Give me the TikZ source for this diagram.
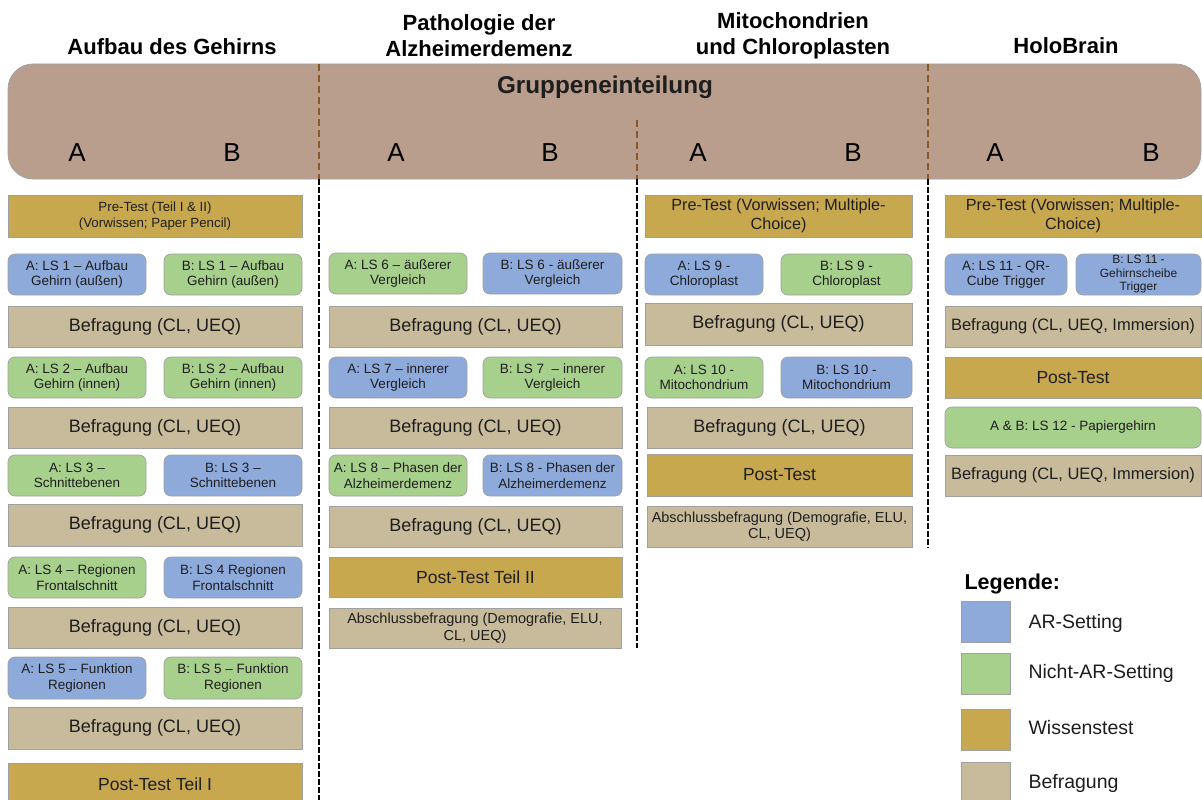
\documentclass[tikz,border=0pt]{standalone}
\usepackage{fontspec}
\setmainfont{Liberation Sans}
\newcommand\fsz[2]{\fontsize{#1}{#2}\selectfont}
\definecolor{arblue}{RGB}{142,170,219}
\definecolor{nargreen}{RGB}{168,208,141}
\definecolor{wgold}{RGB}{200,168,78}
\definecolor{btan}{RGB}{200,187,155}
\definecolor{bandbrown}{RGB}{185,157,141}
\definecolor{dashbrown}{RGB}{139,88,42}
\definecolor{bordergray}{RGB}{160,160,160}
\definecolor{txt}{RGB}{30,30,30}
\newcommand\bx[7]{\node[#2, minimum width={(#5)-(#3)}, minimum height={(#6)-(#4)}] (#1) at ({((#3)+(#5))/2},{((#4)+(#6))/2}) {#7};}
\begin{document}
\begin{tikzpicture}[x=1pt,y=-1pt,
  box/.style={draw=bordergray, line width=0.7pt, align=center, inner sep=1pt, text=txt},
  lsbox/.style={box, rounded corners=7pt, font={\fsz{13.5}{15.5}}},
  ar/.style={lsbox, fill=arblue},
  nar/.style={lsbox, fill=nargreen},
  quest/.style={box, fill=btan, font={\fsz{18}{20}}},
  questsmall/.style={box, fill=btan, font={\fsz{14.5}{16.5}}},
  know/.style={box, fill=wgold, font={\fsz{17.5}{19.5}}},
  title/.style={align=center, font={\bfseries\fsz{22}{26}}, text=black},
  grp/.style={font={\fsz{26}{28}}, text=black},
  bdash/.style={draw=dashbrown, line width=2.6pt, dash pattern=on 7pt off 4pt},
  kdash/.style={draw=black, line width=2.8pt, dash pattern=on 5.5pt off 2.5pt},
  legsq/.style={draw=bordergray, line width=0.7pt, minimum width=49, minimum height=41},
  leglab/.style={anchor=west, font={\fsz{19.5}{22}}, text=txt}
]
\useasboundingbox (0,0) rectangle (1202,800);
\clip (0,0) rectangle (1202,800);
\fill[white] (0,0) rectangle (1202,800);

% titles
\node[title] (t1) at (172,47) {Aufbau des Gehirns};
\node[title] (t2) at (479,36) {Pathologie der\\Alzheimerdemenz};
\node[title] (t3) at (793,36) {Mitochondrien\\und Chloroplasten};
\node[title] (t4) at (1066,46) {HoloBrain};

% band
\node[draw=bordergray, line width=0.7pt, fill=bandbrown, rounded corners=25pt, minimum width=1193, minimum height=115] (band) at (604.5,121.5) {};
\node[font={\bfseries\fsz{24.3}{28}}, text=txt] (grp) at (605,87) {Gruppeneinteilung};
\node[grp] (g1a) at (77,153) {A};
\node[grp] (g1b) at (232,153) {B};
\node[grp] (g2a) at (396,153) {A};
\node[grp] (g2b) at (550,153) {B};
\node[grp] (g3a) at (698,153) {A};
\node[grp] (g3b) at (853,153) {B};
\node[grp] (g4a) at (995,153) {A};
\node[grp] (g4b) at (1151,153) {B};

% dividers
\coordinate (d1t) at (319,64);  \coordinate (d1m) at (319,179); \coordinate (d1b) at (319,800);
\coordinate (d2t) at (637,120); \coordinate (d2m) at (637,179); \coordinate (d2b) at (637,648);
\coordinate (d3t) at (928,64);  \coordinate (d3m) at (928,179); \coordinate (d3b) at (928,548);
\draw[bdash] (d1t) -- (d1m);
\draw[bdash] (d2t) -- (d2m);
\draw[bdash] (d3t) -- (d3m);
\draw[kdash] (d1m) -- (d1b);
\draw[kdash] (d2m) -- (d2b);
\draw[kdash] (d3m) -- (d3b);

% column 1
\bx{pre1}{box, fill=wgold, font={\fsz{13.3}{15.5}}}{8}{195}{302}{237}{Pre-Test (Teil I \& II)\\(Vorwissen; Paper Pencil)}
\bx{a1}{ar}{8}{254}{146}{295}{A: LS 1 – Aufbau\\Gehirn (außen)}
\bx{b1}{nar}{164}{254}{302}{295}{B: LS 1 – Aufbau\\Gehirn (außen)}
\bx{q1}{quest}{8}{306}{302}{347}{Befragung (CL, UEQ)}
\bx{a2}{nar}{8}{357}{146}{398}{A: LS 2 – Aufbau\\Gehirn (innen)}
\bx{b2}{nar}{164}{357}{302}{398}{B: LS 2 – Aufbau\\Gehirn (innen)}
\bx{q2}{quest}{8}{407}{302}{448}{Befragung (CL, UEQ)}
\bx{a3}{nar}{8}{455}{146}{496}{A: LS 3 –\\Schnittebenen}
\bx{b3}{ar}{164}{455}{302}{496}{B: LS 3 –\\Schnittebenen}
\bx{q3}{quest}{8}{504}{302}{546}{Befragung (CL, UEQ)}
\bx{a4}{nar}{8}{557}{146}{598}{A: LS 4 – Regionen\\Frontalschnitt}
\bx{b4}{ar}{164}{557}{302}{598}{B: LS 4 Regionen\\Frontalschnitt}
\bx{q4}{quest}{8}{607}{302}{648}{Befragung (CL, UEQ)}
\bx{a5}{ar}{8}{657}{146}{699}{A: LS 5 – Funktion\\Regionen}
\bx{b5}{nar}{164}{657}{302}{699}{B: LS 5 – Funktion\\Regionen}
\bx{q5}{quest}{8}{707}{302}{749}{Befragung (CL, UEQ)}
\bx{post1}{know}{8}{763}{302}{805}{Post-Test Teil I}

% column 2
\bx{a6}{nar}{329}{253}{467}{294}{A: LS 6 – äußerer\\Vergleich}
\bx{b6}{ar}{483}{253}{622}{294}{B: LS 6 - äußerer\\Vergleich}
\bx{q6}{quest}{329}{306}{622}{347}{Befragung (CL, UEQ)}
\bx{a7}{ar}{329}{357}{467}{398}{A: LS 7 – innerer\\Vergleich}
\bx{b7}{nar}{483}{357}{622}{398}{B: LS 7 \ – innerer\\Vergleich}
\bx{q7}{quest}{329}{407}{622}{448}{Befragung (CL, UEQ)}
\bx{a8}{nar}{329}{455}{467}{496}{A: LS 8 – Phasen der\\Alzheimerdemenz}
\bx{b8}{ar}{483}{455}{622}{496}{B: LS 8 - Phasen der\\Alzheimerdemenz}
\bx{q8}{quest}{329}{506}{622}{547}{Befragung (CL, UEQ)}
\bx{post2}{know}{329}{557}{622}{597}{Post-Test Teil II}
\bx{ab2}{questsmall}{329}{608}{621}{648}{Abschlussbefragung (Demografie, ELU,\\CL, UEQ)}

% column 3
\bx{pre3}{box, fill=wgold, font={\fsz{16.2}{18.5}}}{645}{195}{912}{237}{Pre-Test (Vorwissen; Multiple-\\Choice)}
\bx{a9}{ar}{645}{254}{763}{295}{A: LS 9 -\\Chloroplast}
\bx{b9}{nar}{781}{254}{912}{295}{B: LS 9 -\\Chloroplast}
\bx{q9}{quest}{645}{303}{912}{345}{Befragung (CL, UEQ)}
\bx{a10}{nar}{645}{357}{763}{398}{A: LS 10 -\\Mitochondrium}
\bx{b10}{ar}{781}{357}{912}{398}{B: LS 10 -\\Mitochondrium}
\bx{q10}{quest}{647}{407}{912}{448}{Befragung (CL, UEQ)}
\bx{post3}{know}{647}{454}{912}{496}{Post-Test}
\bx{ab3}{questsmall}{647}{506}{912}{547}{Abschlussbefragung (Demografie, ELU,\\CL, UEQ)}

% column 4
\bx{pre4}{box, fill=wgold, font={\fsz{16.2}{18.5}}}{945}{195}{1201}{237}{Pre-Test (Vorwissen; Multiple-\\Choice)}
\bx{a11}{ar}{945}{254}{1067}{295}{A: LS 11 - QR-\\Cube Trigger}
\bx{b11}{ar, font={\fsz{12}{13.5}}}{1076}{254}{1201}{295}{B: LS 11 -\\Gehirnscheibe\\Trigger}
\bx{q11}{quest, font={\fsz{16.5}{19}}}{945}{306}{1201}{347}{Befragung (CL, UEQ, Immersion)}
\bx{post4}{know}{945}{357}{1201}{398}{Post-Test}
\bx{ab12}{nar}{945}{407}{1201}{448}{A \& B: LS 12 - Papiergehirn}
\bx{q12}{quest, font={\fsz{16.5}{19}}}{945}{455}{1201}{496}{Befragung (CL, UEQ, Immersion)}

% legend
\node[anchor=west, font={\bfseries\fsz{21.5}{24}}, text=black] (leg) at (961,584) {Legende:};
\node[legsq, fill=arblue] (l1) at (985.5,621.5) {};
\node[legsq, fill=nargreen] (l2) at (985.5,673.5) {};
\node[legsq, fill=wgold] (l3) at (985.5,730) {};
\node[legsq, fill=btan] (l4) at (985.5,783) {};
\node[leglab] (l1t) at (1025,623) {AR-Setting};
\node[leglab] (l2t) at (1025,673) {Nicht-AR-Setting};
\node[leglab] (l3t) at (1025,728) {Wissenstest};
\node[leglab] (l4t) at (1025,783) {Befragung};
\end{tikzpicture}
\end{document}
